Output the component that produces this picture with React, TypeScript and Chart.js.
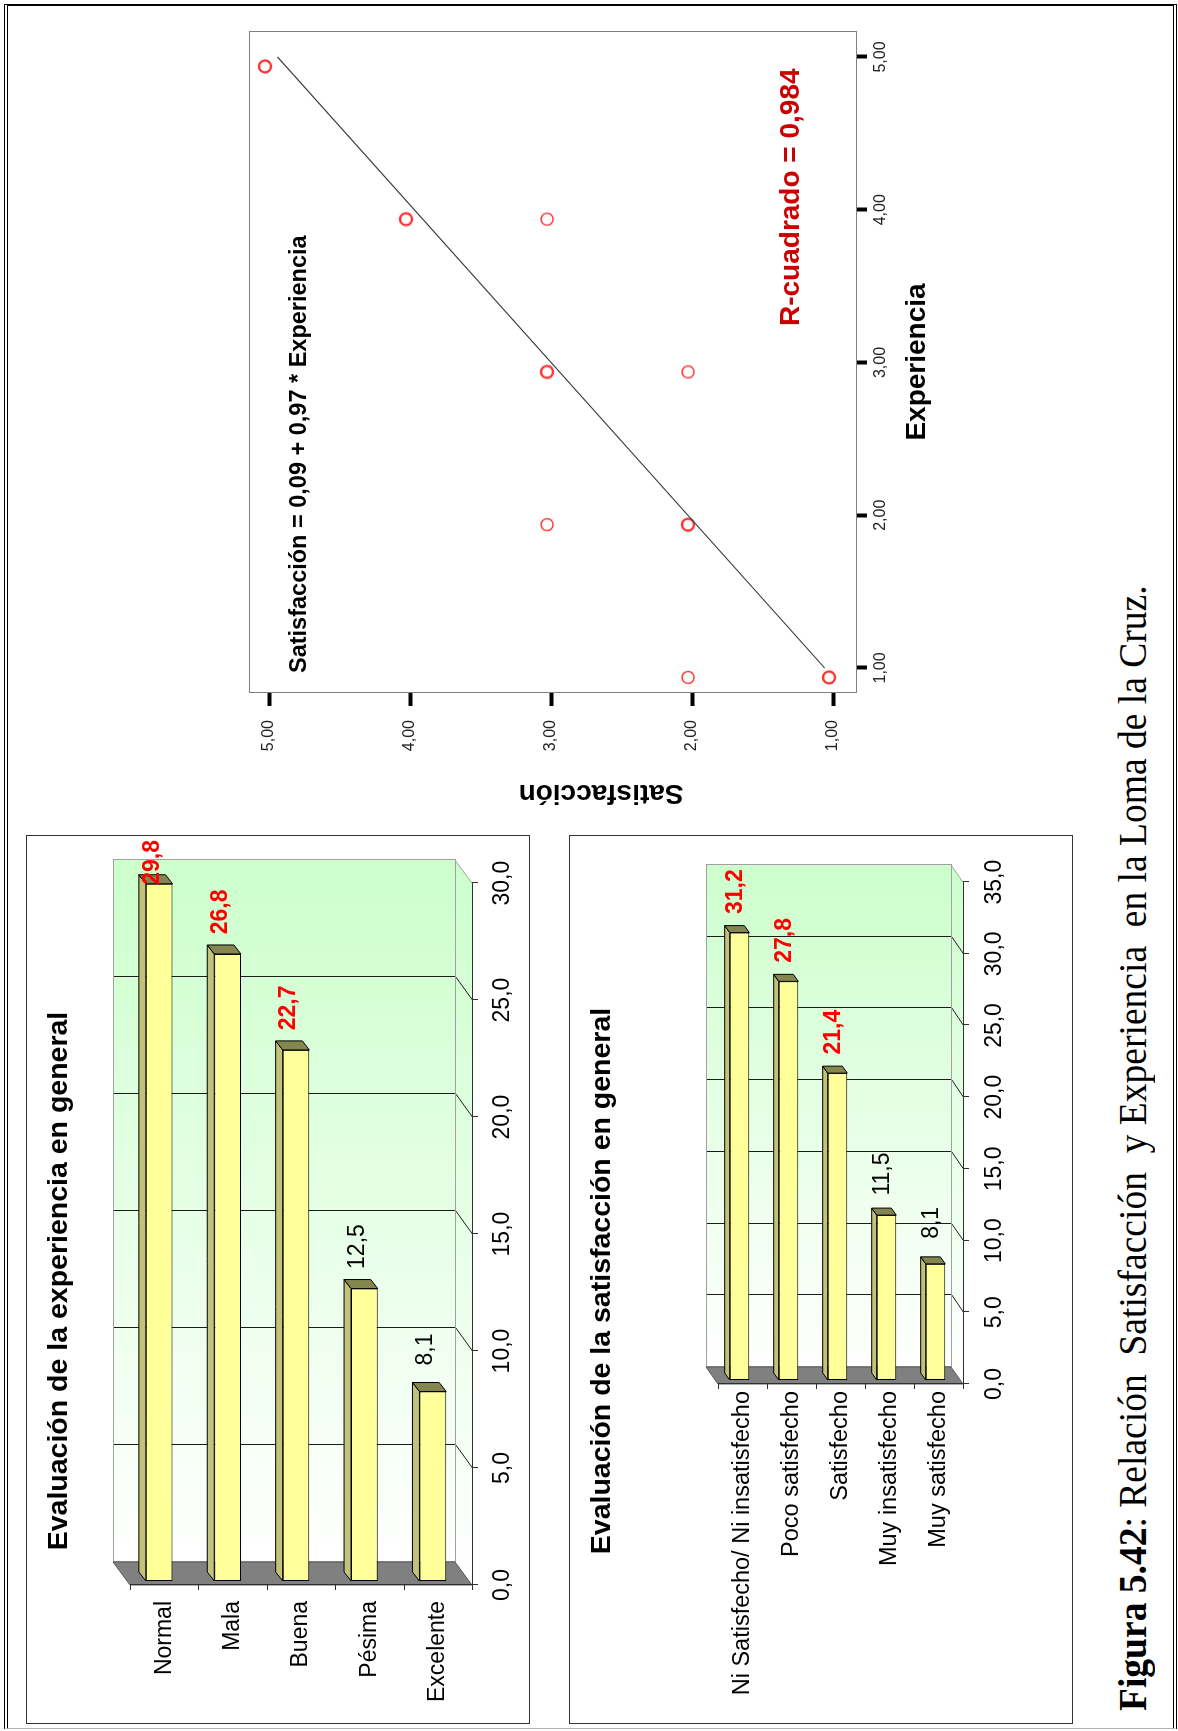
import React, { useEffect, useLayoutEffect, useRef } from 'react';
import { Chart, registerables } from 'chart.js';

Chart.register(...registerables);

const SANS = '"Liberation Sans", Arial, Helvetica, sans-serif';
const SERIF = '"Liberation Serif", "Times New Roman", serif';
Chart.defaults.font.family = SANS;

// ---------------- data ----------------
const experienciaTitle = 'Evaluación de la experiencia en general';
const experienciaCategories = ['Normal', 'Mala', 'Buena', 'Pésima', 'Excelente'];
const experienciaValues = [29.8, 26.8, 22.7, 12.5, 8.1];
const experienciaAxisMax = 30;

const satisfaccionTitle = 'Evaluación de la satisfacción en general';
const satisfaccionCategories = [
  'Ni Satisfecho/ Ni insatisfecho',
  'Poco satisfecho',
  'Satisfecho',
  'Muy insatisfecho',
  'Muy satisfecho',
];
const satisfaccionValues = [31.2, 27.8, 21.4, 11.5, 8.1];
const satisfaccionAxisMax = 35;
const barAxisStep = 5;

const scatterExperiencia = [5, 4, 4, 3, 3, 2, 2, 1, 1];
const scatterSatisfaccion = [5, 4, 3, 3, 2, 3, 2, 2, 1];
const scatterOverlapping = [true, true, false, true, false, false, true, false, true];
const regressionExperiencia = [1, 5];
const regressionSatisfaccion = [1.06, 4.94];
const scatterTickValues = [1, 2, 3, 4, 5];
const equationText = 'Satisfacción = 0,09 + 0,97 * Experiencia';
const rSquaredText = 'R-cuadrado = 0,984';
const xAxisTitle = 'Experiencia';
const yAxisTitle = 'Satisfacción';
const captionBold = 'Figura 5.42';
const captionRest = ': Relación  Satisfacción  y Experiencia  en la Loma de la Cruz.';

// ---------------- helpers ----------------
type Pt = { x: number; y: number };
const fmt1 = (v: any) => Number(v).toFixed(1).replace('.', ',');
const fmt2 = (v: any) => Number(v).toFixed(2).replace('.', ',');
const r5 = (v: number) => Math.round(v) + 0.5;

function poly(ctx: CanvasRenderingContext2D, pts: number[][], fill: any, stroke?: string) {
  ctx.beginPath();
  ctx.moveTo(pts[0][0], pts[0][1]);
  for (let i = 1; i < pts.length; i++) ctx.lineTo(pts[i][0], pts[i][1]);
  ctx.closePath();
  ctx.fillStyle = fill;
  ctx.fill();
  if (stroke) {
    ctx.strokeStyle = stroke;
    ctx.stroke();
  }
}

const bars3dPlugin = {
  id: 'bars3d',
  beforeDatasetsDraw(chart: any, _a: any, o: any) {
    const { ctx, chartArea: ca } = chart;
    const xs = chart.scales.x;
    const px = (v: number) => xs.getPixelForValue(v) + o.front.x;
    const FT = ca.top + o.front.y;
    const FB = ca.bottom + o.front.y;
    const FL = px(xs.min);
    const FR = px(xs.max);
    const dx = o.depth.x;
    const dy = o.depth.y;
    const BL = FL + dx, BR = FR + dx, BT = FT + dy, BB = FB + dy;
    ctx.save();
    ctx.lineWidth = 1;
    const grad = ctx.createLinearGradient(BL, 0, BR, 0);
    grad.addColorStop(0, '#ffffff');
    grad.addColorStop(1, '#ccffcc');
    ctx.fillStyle = grad;
    ctx.fillRect(BL, BT, BR - BL, BB - BT);
    const grad2 = ctx.createLinearGradient(FL, 0, BR, 0);
    grad2.addColorStop(0, '#ffffff');
    grad2.addColorStop(1, '#ccffcc');
    poly(ctx, [[BL, BB], [BR, BB], [FR, FB], [FL, FB]], grad2);
    // grid lines on back wall and floor
    ctx.strokeStyle = '#1c1c1c';
    for (const t of xs.ticks) {
      const v = t.value;
      if (v <= xs.min || v >= xs.max) continue;
      const f = px(v);
      const b = r5(f + dx);
      ctx.beginPath();
      ctx.moveTo(b, BT);
      ctx.lineTo(b, r5(BB));
      ctx.lineTo(f, r5(FB));
      ctx.stroke();
    }
    // back wall outline
    ctx.strokeStyle = '#a0a0a0';
    ctx.strokeRect(r5(BL), r5(BT), Math.round(BR - BL), Math.round(BB - BT));
    ctx.beginPath();
    ctx.moveTo(BR, BB);
    ctx.lineTo(FR, FB);
    ctx.stroke();
    // base wall (value 0)
    poly(ctx, [[FL, FT], [BL, BT], [BL, BB], [FL, FB]], '#808080', '#5a5a5a');
    // front axes
    ctx.strokeStyle = '#303030';
    ctx.beginPath();
    ctx.moveTo(FL, r5(FB));
    ctx.lineTo(FR, r5(FB));
    for (const t of xs.ticks) {
      const f = r5(px(t.value));
      ctx.moveTo(f, FB);
      ctx.lineTo(f, FB + 6);
    }
    ctx.moveTo(r5(FL), FT);
    ctx.lineTo(r5(FL), FB);
    const n = chart.data.labels.length;
    for (let i = 0; i <= n; i++) {
      const y = r5(FT + ((FB - FT) * i) / n);
      ctx.moveTo(FL - 5, y);
      ctx.lineTo(FL, y);
    }
    ctx.stroke();
    ctx.restore();
  },
  afterDatasetsDraw(chart: any, _a: any, o: any) {
    const { ctx } = chart;
    const meta = chart.getDatasetMeta(0);
    const vals: number[] = chart.data.datasets[0].data;
    ctx.save();
    ctx.lineWidth = 1;
    ctx.lineJoin = 'miter';
    meta.data.forEach((el: any) => {
      const { x, y, base, height } = el.getProps(['x', 'y', 'base', 'height'], true);
      const top = y - height / 2;
      const bottom = y + height / 2;
      const ddx = o.barDepth.x;
      const ddy = o.barDepth.y;
      poly(ctx, [[base, top], [x, top], [x + ddx, top + ddy], [base + ddx, top + ddy]], '#c2c27a', '#000');
      poly(ctx, [[x, top], [x, bottom], [x + ddx, bottom + ddy], [x + ddx, top + ddy]], '#85854f', '#000');
    });
    ctx.textAlign = 'center';
    ctx.textBaseline = 'middle';
    meta.data.forEach((el: any, i: number) => {
      const v = vals[i];
      const hi = v >= 20;
      ctx.font = `${hi ? 'bold ' : ''}23px ${SANS}`;
      ctx.fillStyle = hi ? '#ff0000' : '#000000';
      const txt = fmt1(v);
      const w = ctx.measureText(txt).width;
      let cx = el.x + o.labelDx;
      if (cx + w / 2 > o.labelMaxRight) cx = o.labelMaxRight - w / 2;
      ctx.fillText(txt, cx, el.y + o.labelDy);
    });
    ctx.restore();
  },
  afterDraw(chart: any, _a: any, o: any) {
    const { ctx } = chart;
    ctx.save();
    ctx.font = `bold 28.5px ${SANS}`;
    ctx.fillStyle = '#000';
    ctx.textAlign = 'center';
    ctx.textBaseline = 'middle';
    ctx.fillText(o.title, o.titleX, o.titleY);
    ctx.restore();
  },
};

interface BarSpec {
  title: string;
  categories: string[];
  values: number[];
  max: number;
  width: number;
  height: number;
  area: { left: number; right: number; top: number; bottom: number };
  front: Pt;
  depth: Pt;
  barDepth: Pt;
  barPercentage: number;
  catFont: number;
  catPadding: number;
  valPadding: number;
  labelDx: number;
  labelDy: number;
  labelMaxRight: number;
  titleCenterY: number;
  titleCenterX: number;
}

function barConfig(s: BarSpec): any {
  return {
    type: 'bar',
    data: {
      labels: s.categories,
      datasets: [
        {
          data: s.values,
          backgroundColor: '#ffff99',
          borderColor: '#000000',
          borderWidth: 1,
          borderSkipped: false,
          barPercentage: s.barPercentage,
          categoryPercentage: 1,
        },
      ],
    },
    options: {
      indexAxis: 'y',
      animation: false,
      responsive: false,
      events: [],
      layout: { padding: { left: 0, top: s.area.top, bottom: 0, right: s.width - s.area.right } },
      plugins: {
        legend: { display: false },
        tooltip: { enabled: false },
        title: { display: false },
        bars3d: {
          title: s.title,
          titleX: s.titleCenterX,
          titleY: s.titleCenterY,
          front: s.front,
          depth: s.depth,
          barDepth: s.barDepth,
          labelDx: s.labelDx,
          labelDy: s.labelDy,
          labelMaxRight: s.labelMaxRight,
        },
      },
      scales: {
        x: {
          type: 'linear',
          min: 0,
          max: s.max,
          ticks: {
            stepSize: barAxisStep,
            callback: fmt1,
            color: '#000',
            font: { family: SANS, size: 23 },
            padding: s.valPadding,
            labelOffset: s.front.x,
          },
          grid: { display: false, drawTicks: false },
          border: { display: false },
          afterFit: (sc: any) => {
            sc.height = s.height - s.area.bottom;
          },
        },
        y: {
          type: 'category',
          ticks: {
            color: '#000',
            font: { family: SANS, size: s.catFont },
            padding: s.catPadding,
            labelOffset: s.front.y,
            autoSkip: false,
          },
          grid: { display: false, drawTicks: false },
          border: { display: false },
          afterFit: (sc: any) => {
            sc.width = s.area.left;
          },
        },
      },
    },
    plugins: [bars3dPlugin],
  };
}

const markerShift = { x: -9.5, y: -4 };
function makeMarker(lineWidth: number, color: string): HTMLCanvasElement {
  const c = document.createElement('canvas');
  const S = 44;
  c.width = S;
  c.height = S;
  const g = c.getContext('2d') as CanvasRenderingContext2D;
  g.strokeStyle = color;
  g.lineWidth = lineWidth;
  g.beginPath();
  g.arc(S / 2 + markerShift.x, S / 2 + markerShift.y, 6, 0, Math.PI * 2);
  g.stroke();
  return c;
}

const scatterDecor = {
  id: 'scatterDecor',
  beforeDatasetsDraw(chart: any) {
    const { ctx, chartArea: ca } = chart;
    ctx.save();
    ctx.strokeStyle = '#808080';
    ctx.lineWidth = 1;
    ctx.strokeRect(r5(ca.left), r5(ca.top), Math.round(ca.width) - 1, Math.round(ca.height) - 1);
    ctx.restore();
  },
  afterDraw(chart: any, _a: any, o: any) {
    const { ctx } = chart;
    for (const t of o.items) {
      ctx.save();
      ctx.font = t.font;
      ctx.fillStyle = t.color;
      ctx.textAlign = t.align;
      ctx.textBaseline = 'middle';
      ctx.translate(t.x, t.y);
      if (t.rot) ctx.rotate(t.rot);
      ctx.fillText(t.text, 0, 0);
      ctx.restore();
    }
  },
};

function scatterConfig(): any {
  const W = 820;
  const H = 760;
  const area = { left: 138, right: 800, top: 49, bottom: 657 };
  const pts = scatterExperiencia.map((x, i) => ({ x, y: scatterSatisfaccion[i] }));
  const line = regressionExperiencia.map((x, i) => ({ x, y: regressionSatisfaccion[i] }));
  const boldMarker = makeMarker(2.3, '#ff3030');
  const thinMarker = makeMarker(1.4, '#ff3030');
  return {
    type: 'scatter',
    data: {
      datasets: [
        {
          type: 'line',
          data: line,
          borderColor: '#3c3c3c',
          borderWidth: 1.1,
          pointRadius: 0,
          fill: false,
        },
        {
          type: 'scatter',
          data: pts,
          pointRadius: 6,
          pointStyle: (c: any) => (scatterOverlapping[c.dataIndex] ? boldMarker : thinMarker),
        },
      ],
    },
    options: {
      animation: false,
      responsive: false,
      events: [],
      layout: { padding: { left: 0, top: area.top, right: W - area.right, bottom: 0 } },
      plugins: {
        legend: { display: false },
        tooltip: { enabled: false },
        scatterDecor: {
          items: [
            { text: equationText, x: 158, y: 100, font: `bold 23.5px ${SANS}`, color: '#000', align: 'left', rot: 0 },
            { text: rSquaredText, x: 505, y: 591, font: `bold 28px ${SANS}`, color: '#cc0000', align: 'left', rot: 0 },
            { text: yAxisTitle, x: 38, y: 401, font: `bold 28px ${SANS}`, color: '#000', align: 'center', rot: -Math.PI / 2 },
          ],
        },
      },
      scales: {
        x: {
          type: 'linear',
          min: 0.836,
          max: 5.17,
          afterBuildTicks: (sc: any) => {
            sc.ticks = scatterTickValues.map((v) => ({ value: v }));
          },
          ticks: { callback: fmt2, color: '#222', font: { family: SANS, size: 16 }, padding: 4.4 },
          grid: {
            display: true,
            drawOnChartArea: false,
            drawTicks: true,
            tickLength: 10,
            tickWidth: 4,
            tickColor: '#000',
            color: 'rgba(0,0,0,0)',
          },
          border: { display: false },
          title: {
            display: true,
            text: xAxisTitle,
            color: '#000',
            font: { family: SANS, size: 28, weight: 'bold', lineHeight: 1.2 },
            padding: { top: 0, bottom: 26 },
          },
          afterFit: (sc: any) => {
            sc.height = H - area.bottom;
          },
        },
        y: {
          type: 'linear',
          min: 0.83,
          max: 5.142,
          afterBuildTicks: (sc: any) => {
            sc.ticks = scatterTickValues.map((v) => ({ value: v }));
          },
          ticks: { callback: fmt2, color: '#222', font: { family: SANS, size: 16 }, padding: 14 },
          grid: {
            display: true,
            drawOnChartArea: false,
            drawTicks: true,
            tickLength: 13,
            tickWidth: 4,
            tickColor: '#000',
            color: 'rgba(0,0,0,0)',
          },
          border: { display: false },
          afterFit: (sc: any) => {
            sc.width = area.left;
          },
        },
      },
    },
    plugins: [scatterDecor],
  };
}

function ChartCanvas(props: { left: number; top: number; width: number; height: number; make: () => any }) {
  const ref = useRef<HTMLCanvasElement>(null);
  useEffect(() => {
    const chart = new Chart(ref.current as HTMLCanvasElement, props.make());
    return () => chart.destroy();
  }, []);
  return (
    <canvas
      ref={ref}
      width={props.width}
      height={props.height}
      style={{ position: 'absolute', left: props.left, top: props.top, width: props.width, height: props.height }}
    />
  );
}

function Caption() {
  const ref = useRef<HTMLDivElement>(null);
  const targetWidth = 1126;
  useLayoutEffect(() => {
    const el = ref.current as HTMLDivElement;
    el.style.transform = 'none';
    const w = el.offsetWidth;
    if (w > 0) el.style.transform = `scaleX(${targetWidth / w})`;
  }, []);
  return (
    <div
      ref={ref}
      style={{
        position: 'absolute',
        left: 20,
        top: 1113,
        fontFamily: SERIF,
        fontSize: 39,
        lineHeight: '39px',
        whiteSpace: 'pre',
        transformOrigin: '0 0',
        color: '#000',
      }}
    >
      <b>{captionBold}</b>
      {captionRest}
    </div>
  );
}

const chart1Spec: BarSpec = {
  title: experienciaTitle,
  categories: experienciaCategories,
  values: experienciaValues,
  max: experienciaAxisMax,
  width: 889,
  height: 504,
  area: { left: 143, right: 851, top: 99, bottom: 441 },
  front: { x: -4, y: 5 },
  depth: { x: 23, y: -17 },
  barDepth: { x: 9, y: -7 },
  barPercentage: 0.39,
  catFont: 23,
  catPadding: 20,
  valPadding: 21.7,
  labelDx: 42,
  labelDy: -7,
  labelMaxRight: 884,
  titleCenterY: 33,
  titleCenterX: 443,
};

const chart2Spec: BarSpec = {
  title: satisfaccionTitle,
  categories: satisfaccionCategories,
  values: satisfaccionValues,
  max: satisfaccionAxisMax,
  width: 889,
  height: 504,
  area: { left: 344, right: 855, top: 146, bottom: 391 },
  front: { x: -4, y: 3 },
  depth: { x: 17, y: -12 },
  barDepth: { x: 7, y: -5 },
  barPercentage: 0.4,
  catFont: 23.5,
  catPadding: 11,
  valPadding: 20.7,
  labelDx: 41,
  labelDy: -4,
  labelMaxRight: 882,
  titleCenterY: 33,
  titleCenterX: 443,
};

export default function App() {
  return (
    <div
      style={{
        position: 'absolute',
        left: 0,
        top: 0,
        width: 1731,
        height: 1178,
        background: '#ffffff',
        transformOrigin: '0 0',
        transform: 'translate(0px, 1731px) rotate(-90deg)',
        overflow: 'hidden',
      }}
    >
      <div
        style={{
          position: 'absolute',
          left: 2,
          top: 4,
          width: 1725,
          height: 1173,
          boxSizing: 'border-box',
          borderTop: '4px double #000',
          borderBottom: '4px double #000',
          borderRight: '2px solid #000',
          borderLeft: '1px solid #b0b0b0',
        }}
      />
      <div
        style={{
          position: 'absolute',
          left: 7,
          top: 26,
          width: 889,
          height: 504,
          boxSizing: 'border-box',
          border: '1px solid #333',
        }}
      />
      <div
        style={{
          position: 'absolute',
          left: 7,
          top: 569,
          width: 889,
          height: 504,
          boxSizing: 'border-box',
          border: '1px solid #333',
        }}
      />
      <ChartCanvas left={7} top={26} width={889} height={504} make={() => barConfig(chart1Spec)} />
      <ChartCanvas left={7} top={569} width={889} height={504} make={() => barConfig(chart2Spec)} />
      <ChartCanvas left={900} top={200} width={820} height={760} make={scatterConfig} />
      <Caption />
    </div>
  );
}
